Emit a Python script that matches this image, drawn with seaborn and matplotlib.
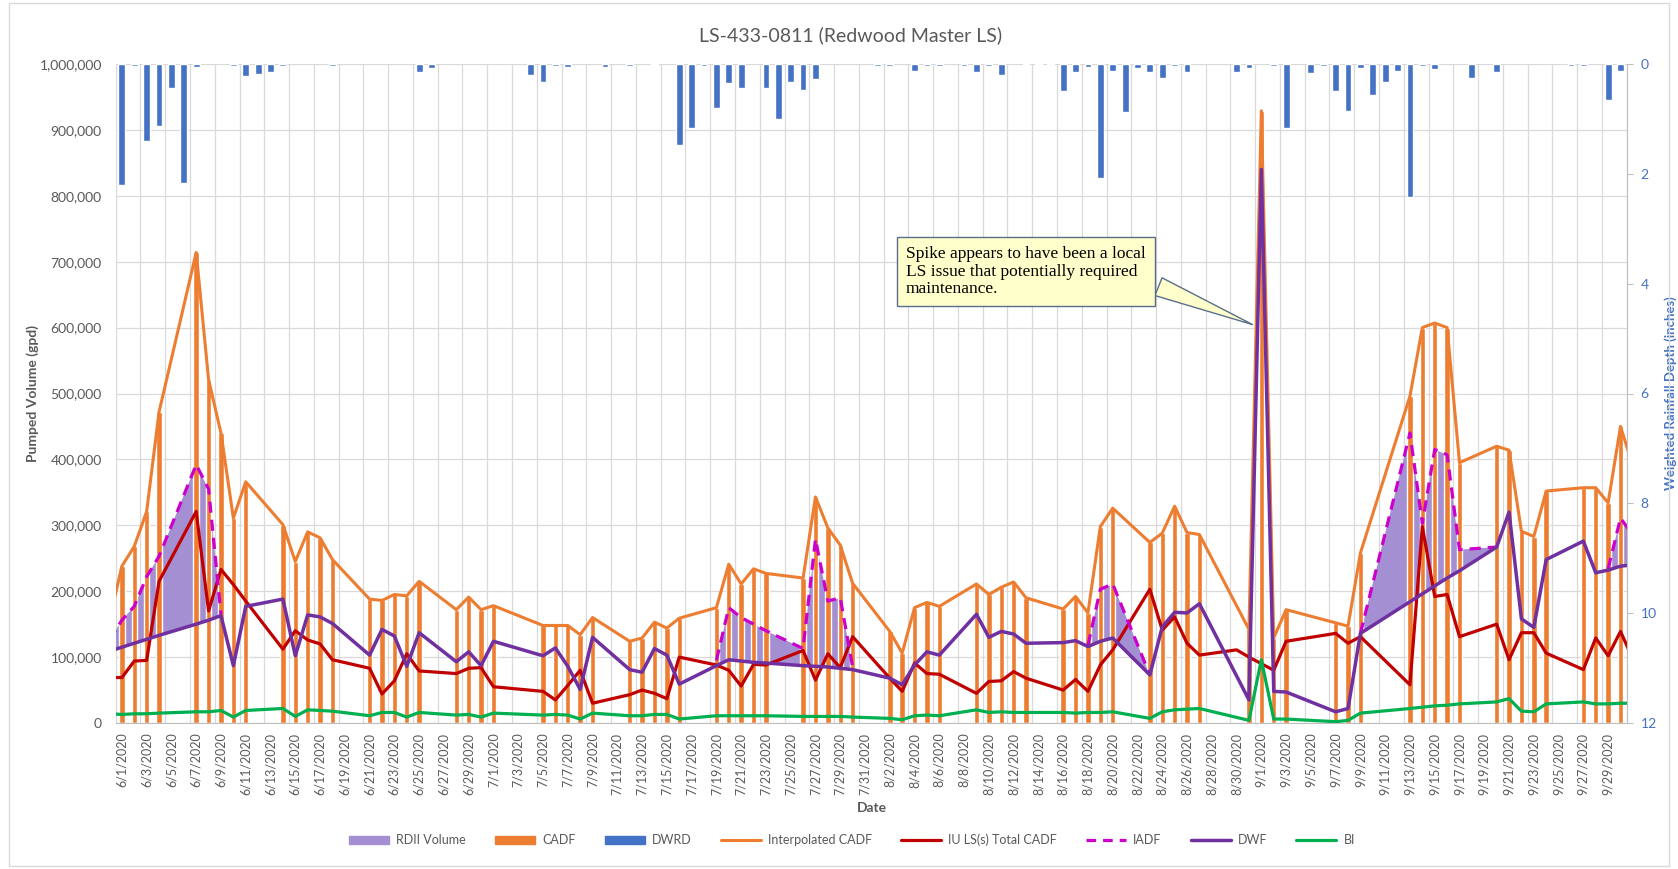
import matplotlib;
matplotlib.use('Agg');
import matplotlib.pyplot as plt;
import matplotlib.patches as mpatches;
import numpy as np;
import pandas as pd;
import seaborn as sns;

from matplotlib.lines import Line2D;
from matplotlib.ticker import FuncFormatter;

nan = np.nan;

# flow days (5/31 and 10/1 sit just outside the axis and are clipped)
flow_dates = [
    '5/31',
    '6/1', '6/2', '6/3', '6/4',
    '6/7', '6/8', '6/9', '6/10', '6/11',
    '6/14', '6/15', '6/16', '6/17', '6/18',
    '6/21', '6/22', '6/23', '6/24', '6/25',
    '6/28', '6/29', '6/30', '7/1',
    '7/5', '7/6', '7/7', '7/8', '7/9',
    '7/12', '7/13', '7/14', '7/15', '7/16',
    '7/19', '7/20', '7/21', '7/22', '7/23',
    '7/26', '7/27', '7/28', '7/29', '7/30',
    '8/2', '8/3', '8/4', '8/5', '8/6',
    '8/9', '8/10', '8/11', '8/12', '8/13',
    '8/16', '8/17', '8/18', '8/19', '8/20',
    '8/23', '8/24', '8/25', '8/26', '8/27',
    '8/30', '8/31', '9/1', '9/2', '9/3',
    '9/7', '9/8', '9/9',
    '9/13', '9/14', '9/15', '9/16', '9/17',
    '9/20', '9/21', '9/22', '9/23', '9/24',
    '9/27', '9/28', '9/29', '9/30',
    '10/1',
];
# values in thousands of gpd
cadf_k = [
    157,
    238, 268, 321, 472,
    714, 521, 440, 311, 366,
    301, 245, 290, 281, 248,
    188, 186, 195, 193, 215,
    172, 191, 172, 178,
    148, 148, 148, 134, 160,
    124, 129, 153, 144, 159,
    175, 241, 211, 234, 227,
    220, 343, 296, 270, 212,
    139, 106, 175, 183, 177,
    211, 195, 206, 214, 190,
    173, 192, 167, 298, 326,
    274, 288, 329, 289, 286,
    nan, 142, 929, 129, 172,
    152, 147, 258,
    496, 600, 607, 600, 395,
    420, 414, 291, 283, 352,
    357, 357, 334, 450,
    390,
];
iu_ls_k = [
    69,
    69, 94, 95, 215,
    321, 170, 233, 210, 185,
    112, 140, 126, 120, 96,
    83, 44, 64, 105, 79,
    75, 83, 84, 55,
    48, 35, 57, 80, 30,
    43, 50, 45, 37, 100,
    88, 80, 56, 89, 88,
    110, 65, 105, 84, 131,
    68, 48, 91, 75, 74,
    45, 63, 64, 78, 68,
    50, 66, 48, 88, 111,
    203, 141, 161, 121, 103,
    111, 100, 90, 80, 124,
    136, 121, 131,
    58, 298, 192, 195, 131,
    150, 96, 137, 137, 106,
    81, 129, 102, 139,
    97,
];
iadf_k = [
    126,
    156, 177, 222, 253,
    392, 355, 165, nan, nan,
    nan, nan, nan, nan, nan,
    nan, nan, nan, nan, nan,
    nan, nan, nan, nan,
    nan, nan, nan, nan, nan,
    nan, nan, nan, nan, nan,
    95, 175, 160, 150, 140,
    113, 279, 185, 190, 85,
    nan, nan, nan, nan, nan,
    nan, nan, nan, nan, nan,
    nan, nan, 118, 203, 211,
    73, nan, nan, nan, nan,
    nan, nan, nan, nan, nan,
    nan, nan, 136,
    440, 303, 415, 407, 263,
    267, nan, nan, nan, nan,
    nan, nan, 234, 311,
    285,
];
dwf_k = [
    109,
    115, 121, 127, 133,
    150, 156, 163, 87, 177,
    188, 102, 164, 161, 151,
    103, 142, 132, 86, 137,
    93, 108, 87, 124,
    102, 114, 86, 51, 130,
    81, 77, 113, 103, 59,
    87, 96, 94, 92, 91,
    87, 86, 85, 83, 81,
    68, 58, 88, 108, 103,
    165, 130, 139, 135, 121,
    122, 125, 116, 124, 129,
    73, 146, 168, 167, 181,
    nan, 35, 840, 48, 47,
    17, 22, 136,
    184, 196, 208, 220, 231,
    267, 320, 158, 145, 248,
    276, 228, 232, 238,
    240,
];
bi_k = [
    14,
    13, 14, 14, 15,
    17, 17, 19, 9, 19,
    22, 10, 20, 19, 18,
    11, 16, 16, 9, 16,
    12, 13, 9, 15,
    12, 13, 12, 6, 15,
    11, 11, 13, 13, 6,
    11, 11, 11, 11, 11,
    10, 10, 10, 10, 9,
    7, 5, 11, 12, 11,
    20, 16, 17, 16, 16,
    16, 15, 16, 16, 17,
    7, 17, 20, 21, 22,
    nan, 4, 96, 6, 6,
    2, 4, 15,
    22, 24, 26, 27, 29,
    32, 37, 18, 17, 29,
    32, 29, 29, 30,
    30,
];

rain_dates = [
    '6/1', '6/2', '6/3', '6/4', '6/5', '6/6', '6/7', '6/10', '6/11', '6/12', '6/13', '6/14', '6/18', '6/25', '6/26',
    '7/4', '7/5', '7/6', '7/7', '7/10', '7/12', '7/14', '7/16', '7/17', '7/18', '7/19', '7/20', '7/21', '7/23', '7/24', '7/25', '7/26', '7/27',
    '8/1', '8/2', '8/4', '8/5', '8/6', '8/8', '8/9', '8/10', '8/11', '8/13', '8/14', '8/15', '8/16', '8/17', '8/18', '8/19', '8/20', '8/21', '8/22', '8/23', '8/24', '8/25', '8/26', '8/30', '8/31',
    '9/2', '9/3', '9/5', '9/6', '9/7', '9/8', '9/9', '9/10', '9/11', '9/12', '9/13', '9/14', '9/15', '9/18', '9/20', '9/26', '9/27', '9/29', '9/30',
];
rain_in = [
    2.20, 0.03, 1.41, 1.13, 0.43, 2.16, 0.06, 0.03, 0.22, 0.18, 0.14, 0.03, 0.03, 0.14, 0.08,
    0.20, 0.33, 0.03, 0.06, 0.06, 0.03, 0.02, 1.48, 1.16, 0.03, 0.81, 0.35, 0.44, 0.43, 1.00, 0.32, 0.47, 0.27,
    0.03, 0.03, 0.12, 0.03, 0.03, 0.03, 0.14, 0.03, 0.20, 0.02, 0.02, 0.02, 0.50, 0.14, 0.05, 2.07, 0.12, 0.87, 0.08, 0.14, 0.26, 0.03, 0.14, 0.15, 0.08,
    0.03, 1.16, 0.17, 0.03, 0.50, 0.86, 0.07, 0.56, 0.33, 0.12, 2.43, 0.03, 0.10, 0.26, 0.14, 0.03, 0.03, 0.65, 0.12,
];

is_color = {
    'rdii': '#A58FD3',
    'cadf': '#ED7D31',
    'dwrd': '#4472C4',
    'iu': '#C00000',
    'iadf': '#CC00CC',
    'dwf': '#7030A0',
    'bi': '#00B050',
    'text': '#595959',
    'grid': '#D9D9D9',
};

sns.set_style('white');
plt.rcParams['font.family'] = ['Lato', 'DejaVu Sans'];

is_origin = pd.Timestamp('2020-06-01');

def to_day(values):
    is_stamp = pd.to_datetime(['2020/' + v for v in values], format='%Y/%m/%d');
    return (is_stamp - is_origin).days.to_numpy();

flows = pd.DataFrame({
    'day': to_day(flow_dates),
    'cadf': np.array(cadf_k, dtype=float) * 1000,
    'iu': np.array(iu_ls_k, dtype=float) * 1000,
    'iadf': np.array(iadf_k, dtype=float) * 1000,
    'dwf': np.array(dwf_k, dtype=float) * 1000,
    'bi': np.array(bi_k, dtype=float) * 1000,
});
flows['seg'] = flows['iadf'].isna().cumsum();
rain = pd.DataFrame({'day': to_day(rain_dates), 'depth': rain_in});

W, H = 1678, 869;
fig = plt.figure(figsize=(W / 100, H / 100), dpi=100);
ax = fig.add_axes([115.7 / W, 1 - 723 / H, 1511 / W, 659 / H]);

# RDII volume: area between IADF and DWF
is_fill = flows.dropna(subset=['dwf']);
ax.fill_between(
    is_fill['day'],
    is_fill['iadf'].fillna(is_fill['dwf']),
    is_fill['dwf'],
    where=is_fill['iadf'].notna().to_numpy(),
    color=is_color['rdii'],
    lw=0,
    zorder=1,
);

is_bar = flows.dropna(subset=['cadf']);
ax.bar(is_bar['day'], is_bar['cadf'], width=0.44, color=is_color['cadf'], zorder=2);

is_line = {'ax': ax, 'legend': False, 'errorbar': None};
sns.lineplot(data=is_bar, x='day', y='cadf', color=is_color['cadf'], linewidth=2.2, zorder=3, **is_line);
sns.lineplot(data=flows.dropna(subset=['iu']), x='day', y='iu', color=is_color['iu'], linewidth=2.3, zorder=4, **is_line);
sns.lineplot(
    data=flows.dropna(subset=['iadf']), x='day', y='iadf', units='seg', estimator=None,
    color=is_color['iadf'], linewidth=2.3, linestyle=(0, (3.5, 2.2)), zorder=5,
    ax=ax, legend=False,
);
sns.lineplot(data=flows.dropna(subset=['dwf']), x='day', y='dwf', color=is_color['dwf'], linewidth=2.5, zorder=6, **is_line);
sns.lineplot(data=flows.dropna(subset=['bi']), x='day', y='bi', color=is_color['bi'], linewidth=2.3, zorder=7, **is_line);

ax.set_xlim(-0.5, 121.5);
ax.set_ylim(0, 1000000);
ax.set_yticks(range(0, 1000001, 100000));
ax.yaxis.set_major_formatter(FuncFormatter(lambda v, p: f'{int(v):,}'));
ax.tick_params(axis='y', length=0, pad=10, labelsize=10, labelcolor=is_color['text']);

is_ticks = list(range(0, 122, 2));
ax.set_xticks(is_ticks);
ax.set_xticklabels(
    [f'{d.month}/{d.day}/{d.year}' for d in (is_origin + pd.to_timedelta(is_ticks, unit='D'))],
    rotation=90,
);
ax.set_xticks(np.arange(-0.5, 122, 2), minor=True);
ax.tick_params(axis='x', which='both', length=0, pad=7, labelsize=9, labelcolor=is_color['text']);
ax.grid(False);
ax.yaxis.grid(True, color=is_color['grid'], lw=0.9);
ax.xaxis.grid(True, which='minor', color=is_color['grid'], lw=0.9);
ax.set_axisbelow(True);
for is_side in ['top', 'left', 'right']:
    ax.spines[is_side].set_visible(False);
ax.spines['bottom'].set_color('#BFBFBF');
ax.set_xlabel('');
ax.set_ylabel('Pumped Volume (gpd)', fontsize=10, fontweight='bold', color=is_color['text']);
ax.yaxis.set_label_coords(-0.0508, 0.5);

# rainfall on inverted secondary axis
ax2 = ax.twinx();
ax2.bar(rain['day'], rain['depth'], width=0.55, color=is_color['dwrd'], zorder=2);
ax2.set_ylim(12, 0);
ax2.set_yticks(range(0, 13, 2));
ax2.tick_params(axis='y', length=4, width=0.8, color='#BFBFBF', pad=6, labelsize=10, labelcolor=is_color['dwrd']);
for is_side in ['top', 'left', 'bottom']:
    ax2.spines[is_side].set_visible(False);
ax2.spines['right'].set_color('#BFBFBF');
ax2.set_ylabel('Weighted Rainfall Depth (inches)', fontsize=9.5, fontweight='bold', color=is_color['dwrd']);
ax2.yaxis.set_label_coords(1.0247, 0.5);

ax2.annotate(
    'Spike appears to have been a local\nLS issue that potentially required\nmaintenance.',
    xy=(91.5, 603000),
    xycoords=ax.transData,
    xytext=(1026, H - 271.5),
    textcoords='figure pixels',
    ha='center',
    va='center',
    multialignment='left',
    family='Liberation Serif',
    fontsize=12.5,
    linespacing=1.1,
    color='black',
    bbox=dict(boxstyle='square,pad=0.55', fc='#FFFFCC', ec='#5A6E8C', lw=1),
    arrowprops=dict(
        arrowstyle='wedge,tail_width=1.1,shrink_factor=0.5',
        fc='#FFFFCC', ec='#5A6E8C', lw=1, relpos=(1.0, 0.3),
    ),
    zorder=10,
);

fig.text(851 / W, 1 - 35 / H, 'LS-433-0811 (Redwood Master LS)', ha='center', va='center', fontsize=14, color=is_color['text']);
fig.text(872 / W, 1 - 808 / H, 'Date', ha='center', va='center', fontsize=10, fontweight='bold', color=is_color['text']);

is_handles = [
    mpatches.Patch(color=is_color['rdii'], label='RDII Volume'),
    mpatches.Patch(color=is_color['cadf'], label='CADF'),
    mpatches.Patch(color=is_color['dwrd'], label='DWRD'),
    Line2D([], [], color=is_color['cadf'], lw=2.2, label='Interpolated CADF'),
    Line2D([], [], color=is_color['iu'], lw=2.3, label='IU LS(s) Total CADF'),
    Line2D([], [], color=is_color['iadf'], lw=2.3, linestyle=(0, (3, 2.2)), label='IADF'),
    Line2D([], [], color=is_color['dwf'], lw=2.5, label='DWF'),
    Line2D([], [], color=is_color['bi'], lw=2.3, label='BI'),
];
fig.legend(
    handles=is_handles,
    loc='center',
    bbox_to_anchor=(852 / W, 1 - 840 / H),
    ncol=8,
    frameon=False,
    fontsize=9,
    handlelength=3.2,
    handletextpad=0.6,
    columnspacing=2.3,
    labelcolor=is_color['text'],
);

fig.patches.append(mpatches.Rectangle(
    (9 / W, 3 / H), (W - 18) / W, (H - 6) / H,
    transform=fig.transFigure, fill=False, ec='#D9D9D9', lw=1,
));

fig.savefig('out.png', dpi=100);
